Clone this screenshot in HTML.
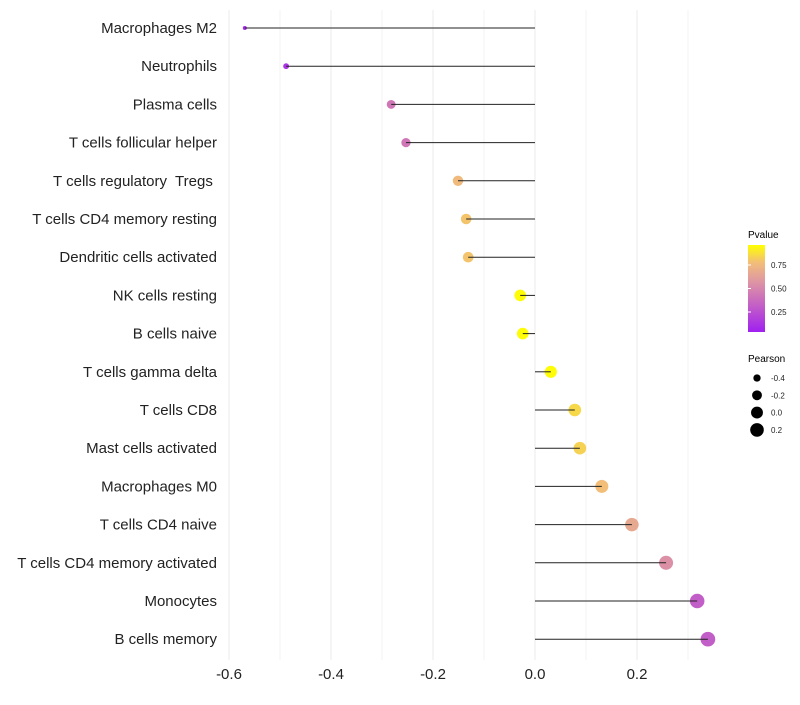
<!DOCTYPE html>
<html><head><meta charset="utf-8"><style>
body{margin:0;background:#fff;font-family:"Liberation Sans",sans-serif}
text{white-space:pre}
</style></head><body>
<svg id="chart" width="800" height="700" xmlns="http://www.w3.org/2000/svg">
<defs><linearGradient id="pg" x1="0" y1="1" x2="0" y2="0">
<stop offset="0" stop-color="#A020F0"/><stop offset="0.35" stop-color="#C868C0"/><stop offset="0.6" stop-color="#E09AA0"/><stop offset="0.8" stop-color="#F2BE78"/><stop offset="1" stop-color="#FFFF00"/></linearGradient></defs>
<g id="grid"></g>
<g id="dots"></g>
<g id="marks"></g>
<g id="ylabels"></g>
<g id="xlabels"></g>
<g>
<text x="748" y="238" font-size="10">Pvalue</text>
<rect x="748" y="245" width="17" height="87" fill="url(#pg)"/>
<g id="cbticks"></g>
</g>
<g id="sizeleg">
<text x="748" y="362" font-size="10">Pearson</text>
</g>
</svg>
<script>
const cells=["Macrophages M2","Neutrophils","Plasma cells","T cells follicular helper","T cells regulatory  Tregs ","T cells CD4 memory resting","Dendritic cells activated","NK cells resting","B cells naive","T cells gamma delta","T cells CD8","Mast cells activated","Macrophages M0","T cells CD4 naive","T cells CD4 memory activated","Monocytes","B cells memory"];
const pearson=[-0.569,-0.488,-0.282,-0.253,-0.151,-0.135,-0.131,-0.029,-0.024,0.031,0.078,0.088,0.131,0.190,0.257,0.318,0.339];
const pvalue=[0.05,0.1,0.42,0.42,0.78,0.82,0.82,0.99,0.99,0.99,0.88,0.86,0.8,0.68,0.55,0.3,0.3];
const xticks=[-0.6,-0.4,-0.2,0.0,0.2];
const cbticks=[0.25,0.5,0.75];
const sizeTicks=[-0.4,-0.2,0.0,0.2];
const NS="http://www.w3.org/2000/svg";
const X=v=>535+v*510, Y=i=>28+i*38.2;
const R=v=>Math.max(1.5,Math.sqrt(4+(v+0.57)/0.91*50));
const PY=p=>335.5-p*94;
function col(p){const st=[[0,[160,32,240]],[0.35,[200,104,192]],[0.6,[224,154,160]],[0.8,[242,190,120]],[1,[255,255,0]]];
for(let k=1;k<st.length;k++){if(p<=st[k][0]){const a=st[k-1],b=st[k],t=(p-a[0])/(b[0]-a[0]);return "rgb("+a[1].map((c,j)=>Math.round(c+(b[1][j]-c)*t)).join(",")+")";}}return "rgb(255,255,0)";}
function mk(t,a,parent){const e=document.createElementNS(NS,t);for(const k in a)e.setAttribute(k,a[k]);document.getElementById(parent).appendChild(e);return e;}
for(let v=-0.6;v<=0.351;v+=0.1){const l=mk("line",{x1:X(v),x2:X(v),y1:10,y2:660,stroke:"#ebebeb","stroke-width":Math.abs(Math.round(v*10))%2===0?1:0.6},"grid");

}
xticks.forEach(v=>{const t=mk("text",{x:X(v),y:679,"font-size":15,"text-anchor":"middle",fill:"#222"},"xlabels");t.textContent=v.toFixed(1);

});
cells.forEach((c,i)=>{
const t=mk("text",{x:217,y:Y(i)+5,"font-size":15,"text-anchor":"end",fill:"#222"},"ylabels");t.textContent=c;


const d=mk("circle",{cx:X(pearson[i]),cy:Y(i),r:R(pearson[i]),fill:col(pvalue[i])},"dots");


const l=mk("line",{x1:X(0),x2:X(pearson[i]),y1:Y(i),y2:Y(i),stroke:"#222","stroke-width":1},"marks");


});
cbticks.forEach(p=>{const t=mk("text",{x:771,y:PY(p)+3,"font-size":8,fill:"#222"},"cbticks");t.textContent=p.toFixed(2);


const l=mk("line",{x1:748,x2:751,y1:PY(p),y2:PY(p),stroke:"#fff"},"cbticks");
});
sizeTicks.forEach((v,k)=>{const y=378+k*17.3;
const c=mk("circle",{cx:757,cy:y,r:R(v),fill:"#000"},"sizeleg");


const t=mk("text",{x:771,y:y+3,"font-size":8,fill:"#222"},"sizeleg");t.textContent=v.toFixed(1);

});
</script>
</body></html>
